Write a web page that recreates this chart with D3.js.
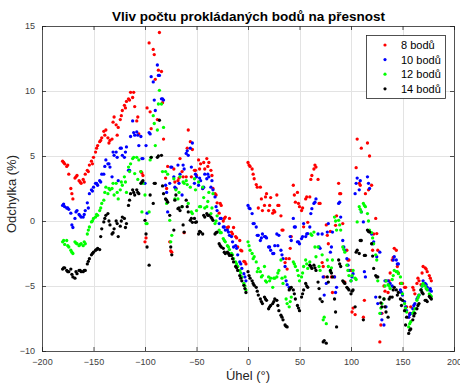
<!DOCTYPE html>
<html><head><meta charset="utf-8">
<script src="https://cdn.jsdelivr.net/npm/d3@7"></script>
<style>body{margin:0;background:#fff}svg{display:block}text{font-family:"Liberation Sans",Arial,Helvetica,sans-serif}</style>
</head><body><div id="chart"></div>
<script>
const titleText = "Vliv počtu prokládaných bodů na přesnost";
const xLabel = "Úhel (°)";
const yLabel = "Odchylka (%)";
const seriesNames = ["8 bodů","10 bodů","12 bodů","14 bodů"];
const seriesColors = ["#ff0000","#0000ff","#00ff00","#000000"];
const xTicks = [-200,-150,-100,-50,0,50,100,150,200];
const yTicks = [-10,-5,0,5,10,15];

const angles = [-180,-178,-176,-174,-172,-170,-168,-166,-164,-162,
-160,-158,-156,-154,-152,-150,-148,-146,-144,-142,
-140,-138,-136,-134,-132,-130,-128,-126,-124,-122,
-120,-118,-116,-114,-112,-110,-108,-106,-104,-102,
-100,-98,-96,-94,-92,-90,-88,-86,-84,-82,
-80,-78,-76,-74,-72,-70,-68,-66,-64,-62,
-60,-58,-56,-54,-52,-50,-48,-46,-44,-42,
-40,-38,-36,-34,-32,-30,-28,-26,-24,-22,
-20,-18,-16,-14,-12,-10,-8,-6,-4,-2,
0,2,4,6,8,10,12,14,16,18,
20,22,24,26,28,30,32,34,36,38,
40,42,44,46,48,50,52,54,56,58,
60,62,64,66,68,70,72,74,76,78,
80,82,84,86,88,90,92,94,96,98,
100,102,104,106,108,110,112,114,116,118,
120,122,124,126,128,130,132,134,136,138,
140,142,144,146,148,150,152,154,156,158,
160,162,164,166,168,170,172,174,176,178];

const anglesOdd = [-179,-175,-171,-167,-163,-159,-155,-151,-147,-143,
-139,-135,-131,-127,-123,-119,-115,-111,-107,-103,
-99,-95,-91,-87,-83,-79,-75,-71,-67,-63,
-59,-55,-51,-47,-43,-39,-35,-31,-27,-23,
-19,-15,-11,-7,-3,1,5,9,13,17,
21,25,29,33,37,41,45,49,53,57,
61,65,69,73,77,81,85,89,93,97,
101,105,109,113,117,121,125,129,133,137,
141,145,149,153,157,161,165,169,173,177];

const red8 = [4.6,4.4,4.2,3.6,2.5,1.7,3.3,3.5,3.1,2.9,
3.2,3.6,3.9,4.3,4.6,4.9,5.3,5.8,6.1,6.4,
6.9,7.0,6.4,6.2,6.3,8.0,7.4,7.2,7.8,8.5,
8.9,9.2,9.4,9.9,9.5,8.8,7.7,6.7,3.8,3.5,
-1.6,8.7,13.7,7.1,13.2,10.9,7.8,14.5,11.5,6.3,
3.3,4.2,-1.6,-2.4,4.0,2.5,3.1,4.8,3.8,-0.9,
3.4,7.0,6.1,5.5,3.9,3.5,4.7,4.4,2.5,4.0,
4.8,4.5,3.9,2.5,2.1,1.4,0.6,1.2,0.0,0.3,
-0.5,0.2,-0.85,-0.5,-1.2,-2.0,-1.5,-2.3,-3.1,-3.3,
4.5,4.2,4.0,3.25,2.8,1.0,2.6,0.8,1.2,2.1,
0.8,1.8,0.6,0.7,2.0,1.2,0.4,-0.7,-3.2,-3.7,
-2.9,-1.2,2.75,1.45,2.2,1.1,0.8,-0.45,1.7,-0.1,
1.85,3.5,4.0,4.15,3.2,1.35,-3.2,-4.3,-0.3,-1.75,
-0.8,-5.5,-4.3,0.4,2.9,2.1,-0.2,-4.7,-2.25,-3.0,
-3.8,-6.7,-7.2,6.3,2.9,5.6,-7.4,2.1,6.0,5.0,
2.75,-1.0,0.2,-2.25,-9.3,-7.1,-5.0,-4.6,-5.5,-4.0,
-3.0,-2.1,-2.25,-4.0,-4.8,-4.8,-5.1,-6.6,-7.4,-6.6,
-5.1,-5.6,-4.8,-4.6,-4.9,-3.5,-3.6,-3.9,-4.2,-4.6];
const red8Odd = [4.5,4.3,2.1,3.4,3.0, 3.0,3.8,4.4,5.6,6.2,
6.6,6.0,7.6,6.6,8.1, 8.7,9.3,9.9,8.0,3.7,
-1.3,8.4,12.8,11.6,9.1, 2.5,-2.3,3.0,3.3,3.4,
5.6,3.4,3.9,4.0,4.5, 4.2,3.5,2.0,1.35,0.2,
-0.46,-1.0,-1.3,-2.25,-3.15, 4.3,3.6,2.6,1.7,1.85,
1.2,0.82,1.2,-0.7,-2.9, -2.1,2.0,1.35,1.0,1.85,
3.2,4.3,1.35,-3.5,-1.1, -4.3,-0.33,2.1,-4.7,-3.0,
-7.0,4.1,2.75,-6.1,2.4, -2.25,-0.97,-8.0,-5.4,-4.6,
-2.8,-3.5,-4.8,-5.1,-7.1, -5.3,-4.4,-4.0,-3.7,-4.4];

const blue10 = [1.2,1.1,1.0,0.9,0.6,-0.5,0.2,0.8,0.5,0.3,
0.3,0.8,1.4,2.1,2.4,2.6,2.9,2.75,3.1,3.6,
3.6,4.7,4.4,4.15,3.4,5.05,5.3,3.1,5.6,5.05,
4.9,5.7,3.9,6.5,7.7,6.6,6.85,5.8,6.5,4.8,
2.9,0.6,6.8,11.1,10.7,8.5,12.0,11.2,9.4,9.3,
2.75,0.7,2.9,4.15,3.4,2.5,4.3,3.6,2.0,4.0,
5.2,5.05,5.6,6.0,2.9,3.4,2.75,3.1,2.5,3.6,
3.25,3.4,2.6,2.4,1.85,0.8,-0.2,0.2,-0.46,-0.7,
-0.7,-1.1,-1.2,-2.0,-1.9,-2.6,-3.15,-3.65,-4.05,-4.6,
1.2,0.95,0.57,-0.2,-0.46,-1.1,-1.5,-1.0,-1.2,-1.3,
-2.0,-2.25,-2.5,-1.9,-1.0,-1.1,-2.25,-2.9,-3.5,-4.9,
-5.1,-1.5,0.2,-0.46,-1.6,-1.75,-1.35,-0.2,-1.2,-0.97,
-0.46,0.95,1.35,1.7,-1.0,-2.1,-1.0,-5.7,-4.8,-0.2,
-2.4,-0.85,-4.3,-5.1,1.35,0.3,-1.5,-2.25,-2.9,-3.8,
-4.6,-4.05,2.1,3.3,2.4,0.7,-0.07,-4.3,3.4,2.5,
-1.0,-1.6,-5.85,-6.35,-2.4,-7.6,-8.0,-6.6,-4.6,-4.8,
-5.0,-2.75,-3.0,-3.3,-5.3,-5.7,-6.2,-6.9,-7.4,-7.1,
-6.75,-6.35,-6.0,-5.7,-5.3,-4.6,-4.8,-5.1,-5.3,-5.4];
const blue10Odd = [1.3,1.0,-0.3,0.7,0.4, 0.5,1.0,2.3,2.9,3.0,
4.2,4.4,5.3,4.9,5.6, 5.3,3.9,6.8,6.6,4.8,
5.8,6.7,9.3,11.2,9.4, 2.2,4.15,2.6,2.9,4.3,
5.4,4.15,3.6,3.3,2.6, 3.6,3.1,1.1,0.2,-0.46,
-0.85,-1.6,-2.1,-3.3,-4.3, 1.0,-0.2,-1.1,-1.3,-1.2,
-2.0,-2.5,-1.9,-2.6,-4.6, -1.2,-0.46,-1.6,-1.2,-1.0,
0.57,1.45,-2.0,-4.3,-0.85, -2.0,-5.5,1.45,-2.0,-3.4,
-4.3,2.9,3.1,-3.9,2.9, -1.75,-2.75,-7.1,-4.6,-4.9,
-3.0,-3.3,-5.5,-6.6,-7.2, -6.5,-5.85,-5.0,-4.9,-5.2];

const green12 = [-1.6,-1.8,-1.5,-2.0,-2.25,-2.5,-1.6,-1.75,-1.9,-1.75,
-1.9,-1.75,-1.0,-0.46,-0.07,0.2,0.3,0.44,0.8,1.35,
1.6,2.6,2.1,2.4,2.5,2.0,2.9,1.7,2.4,2.75,
3.4,2.2,4.15,4.4,4.8,3.65,4.9,4.7,3.8,2.9,
2.0,-0.2,0.7,4.9,8.1,5.8,7.0,10.05,9.0,7.2,
3.8,3.6,0.05,-1.1,3.25,2.4,1.7,3.4,1.1,2.9,
3.1,1.35,2.6,0.57,3.25,0.8,3.0,1.1,2.6,1.0,
1.1,2.2,0.57,2.1,-0.2,0.4,-0.7,-0.9,-1.35,-1.6,
-1.9,-2.2,-2.5,-2.9,-3.15,-3.5,-3.8,-4.3,-4.8,-5.3,
-1.6,-2.25,-2.5,-2.75,-3.15,-3.65,-3.9,-4.2,-3.5,-4.7,
-4.3,-4.4,-5.1,-4.4,-4.3,-3.8,-3.0,-4.8,-4.3,-6.35,
-6.6,-5.85,-3.15,-3.5,-3.8,-4.6,-4.3,-3.5,-3.0,-3.65,
-3.15,-1.1,-0.85,-2.75,-2.0,-3.8,-2.6,-7.4,-7.9,-3.5,
-3.9,-3.0,0.3,-0.7,0.05,-0.7,-2.0,-2.4,-3.4,-4.2,
-4.6,-3.8,-4.4,-0.07,1.1,0.7,1.35,1.1,0.57,-0.7,
-0.9,-1.75,-2.6,-4.6,-7.1,-6.35,-6.0,-4.6,-4.9,-5.2,
-4.5,-3.8,-3.9,-4.05,-4.3,-5.6,-6.35,-7.0,-8.15,-7.75,
-7.1,-6.75,-6.1,-5.7,-5.3,-4.8,-5.0,-5.3,-5.6,-5.8];
const green12Odd = [-1.5,-1.9,-2.4,-1.7,-1.8, -1.6,-0.7,0.0,0.5,1.0,
2.2,2.5,2.9,2.2,3.0, 3.0,3.8,4.9,3.2,0.7,
-0.2,4.7,7.5,9.0,3.8, 1.35,-1.6,1.7,2.2,3.0,
2.8,0.7,2.4,1.1,1.8, 1.5,1.0,0.0,-0.9,-1.5,
-2.0,-2.6,-3.3,-4.0,-5.0, -1.9,-2.9,-3.9,-4.3,-4.6,
-4.6,-4.4,-4.0,-4.4,-6.0, -6.2,-3.3,-4.2,-4.0,-3.3,
-1.0,-2.0,-3.5,-7.6,-3.0, -3.6,0.0,-0.3,-2.2,-3.8,
-4.2,-4.5,0.9,1.2,0.0, -1.3,-3.0,-6.7,-5.0,-5.0,
-4.2,-3.9,-4.8,-6.7,-7.9, -7.0,-5.9,-5.0,-5.2,-5.7];

const black14 = [-3.7,-3.6,-3.8,-3.9,-3.7,-4.3,-4.4,-4.05,-3.8,-3.9,
-3.9,-3.8,-3.3,-2.9,-2.6,-2.4,-2.25,-2.1,-2.2,-0.6,
-0.07,0.44,0.57,-0.3,-1.0,-0.6,0.0,-1.2,-0.4,0.3,
0.2,-0.2,1.2,2.1,2.4,2.0,2.4,2.1,2.9,3.1,
0.05,-2.0,-3.4,4.9,1.35,2.9,4.9,7.75,5.05,2.1,
1.7,1.45,0.44,-2.6,-0.7,2.0,0.95,0.8,1.1,-0.85,
1.6,0.7,0.05,-0.1,0.2,-0.07,-1.0,-0.85,-1.0,0.3,
0.57,0.44,0.3,0.05,-1.0,-0.85,-1.75,-2.0,-2.1,-2.5,
-2.4,-2.65,-2.65,-3.15,-3.5,-3.8,-4.2,-4.6,-4.95,-5.5,
-3.9,-4.4,-4.6,-4.95,-5.1,-5.7,-6.0,-6.35,-5.85,-6.1,
-6.75,-6.5,-6.35,-6.0,-6.1,-6.9,-7.25,-7.6,-8.0,-8.15,
-5.3,-5.1,-5.3,-6.0,-6.5,-6.9,-5.85,-5.3,-4.8,-5.1,
-3.4,-3.65,-3.4,-3.8,-4.7,-6.0,-6.2,-9.2,-9.4,-4.7,
-3.8,-4.3,-6.0,-8.15,-3.0,-3.5,-4.6,-4.8,-5.1,-5.3,
-5.6,-5.3,-6.6,-2.25,-2.5,-1.5,-7.6,-2.65,-0.7,-0.85,
-1.75,-3.65,-4.2,-4.3,-5.85,-6.6,-6.0,-7.0,-7.4,-5.85,
-5.85,-5.1,-5.3,-5.5,-6.0,-6.1,-6.9,-7.4,-8.65,-8.3,
-7.6,-7.1,-6.75,-6.35,-5.3,-5.6,-6.1,-6.2,-5.8,-6.0];
const black14Odd = [-3.6,-3.9,-4.1,-3.9,-3.8, -3.8,-3.1,-2.5,-2.2,-1.2,
0.2,0.0,-0.9,-0.2,0.0, -0.5,1.6,2.2,2.2,3.0,
-1.0,2.0,2.9,5.0,2.7, 1.6,-2.0,1.6,1.0,-0.3,
1.1,0.2,-0.1,-0.8,0.44, 0.44,0.2,-0.9,-1.9,-2.4,
-2.5,-2.9,-3.6,-4.4,-5.2, -4.2,-4.8,-5.4,-6.2,-6.0,
-6.6,-6.2,-6.5,-7.4,-8.1, -5.2,-5.6,-6.7,-5.6,-5.0,
-3.5,-3.6,-5.2,-9.3,-4.3, -4.0,-7.0,-3.3,-4.7,-5.2,
-5.4,-2.4,-1.5,-2.65,-0.8, -2.7,-4.3,-6.3,-6.6,-6.0,
-5.3,-5.7,-6.5,-8.0,-8.4, -7.3,-6.5,-5.5,-6.1,-5.9];

const seriesData = [
  [red8, red8Odd], [blue10, blue10Odd], [green12, green12Odd], [black14, black14Odd]
];

const W = 460, H = 383;
const m = {left: 42, right: 6, top: 26, bottom: 32};
const svg = d3.select("#chart").append("svg").attr("width", W).attr("height", H);
svg.append("rect").attr("width", W).attr("height", H).attr("fill", "#fff");

const x = d3.scaleLinear().domain([-200, 200]).range([m.left, W - m.right]);
const y = d3.scaleLinear().domain([-10, 15]).range([H - m.bottom, m.top]);

// grid
const grid = svg.append("g");
grid.selectAll(".gx").data(xTicks.slice(1, -1)).join("line")
  .attr("x1", d => Math.round(x(d)) + 0.5).attr("x2", d => Math.round(x(d)) + 0.5)
  .attr("y1", y.range()[1]).attr("y2", y.range()[0])
  .attr("stroke", "#e3e3e3").attr("stroke-width", 1);
grid.selectAll(".gy").data(yTicks.slice(1, -1)).join("line")
  .attr("y1", d => Math.round(y(d)) + 0.5).attr("y2", d => Math.round(y(d)) + 0.5)
  .attr("x1", x.range()[0]).attr("x2", x.range()[1])
  .attr("stroke", "#e3e3e3").attr("stroke-width", 1);

// points
const plot = svg.append("g");
seriesData.forEach(([vals, valsOdd], si) => {
  const pts = vals.map((v, i) => [angles[i], v]).concat(valsOdd.map((v, i) => [anglesOdd[i], v]));
  plot.append("g").selectAll("circle").data(pts).join("circle")
    .attr("cx", d => x(d[0]))
    .attr("cy", d => y(d[1]))
    .attr("r", 1.65)
    .attr("fill", seriesColors[si]);
});

// axes
const axisColor = "#262626";
const xAxis = d3.axisBottom(x).tickValues(xTicks).tickSize(-4).tickPadding(8).tickFormat(d3.format("d"));
const xTop = d3.axisTop(x).tickValues(xTicks).tickSize(-4).tickFormat("");
const yAxis = d3.axisLeft(y).tickValues(yTicks).tickSize(-4).tickPadding(7).tickFormat(d3.format("d"));
const yRight = d3.axisRight(y).tickValues(yTicks).tickSize(-4).tickFormat("");

function style(g) {
  g.selectAll("path").attr("stroke", axisColor).attr("stroke-width", 0.8);
  g.selectAll("line").attr("stroke", axisColor).attr("stroke-width", 0.8);
  g.selectAll("text").attr("fill", "#404040").style("font-size", "9px").style("font-family", '"Liberation Sans",Arial,sans-serif');
}
svg.append("g").attr("transform", `translate(0,${y.range()[0]})`).call(xAxis).call(style);
svg.append("g").attr("transform", `translate(0,${y.range()[1]})`).call(xTop).call(style);
svg.append("g").attr("transform", `translate(${x.range()[0]},0)`).call(yAxis).call(style);
svg.append("g").attr("transform", `translate(${x.range()[1]},0)`).call(yRight).call(style);

// title and labels
svg.append("text").attr("x", 248.5).attr("y", 21)
  .attr("text-anchor", "middle").style("font-size", "13.5px").style("font-weight", "bold")
  .attr("fill", "#000").text(titleText);
svg.append("text").attr("x", (x.range()[0] + x.range()[1]) / 2).attr("y", 380)
  .attr("text-anchor", "middle").style("font-size", "13px").attr("fill", "#262626").text(xLabel);
svg.append("text").attr("transform", `translate(16,194) rotate(-90)`)
  .attr("text-anchor", "middle").style("font-size", "13px").attr("fill", "#262626").text(yLabel);

// legend
const lg = svg.append("g").attr("transform", "translate(366,35)");
lg.append("rect").attr("x", 0.5).attr("y", 0.5).attr("width", 79).attr("height", 63)
  .attr("fill", "#fff").attr("stroke", axisColor).attr("stroke-width", 0.8);
seriesNames.forEach((name, i) => {
  const yy = 10 + i * 14.6;
  lg.append("circle").attr("cx", 19).attr("cy", yy).attr("r", 1.6).attr("fill", seriesColors[i]);
  lg.append("text").attr("x", 35).attr("y", yy + 4).style("font-size", "11px").attr("fill", "#000").text(name);
});
</script></body></html>
